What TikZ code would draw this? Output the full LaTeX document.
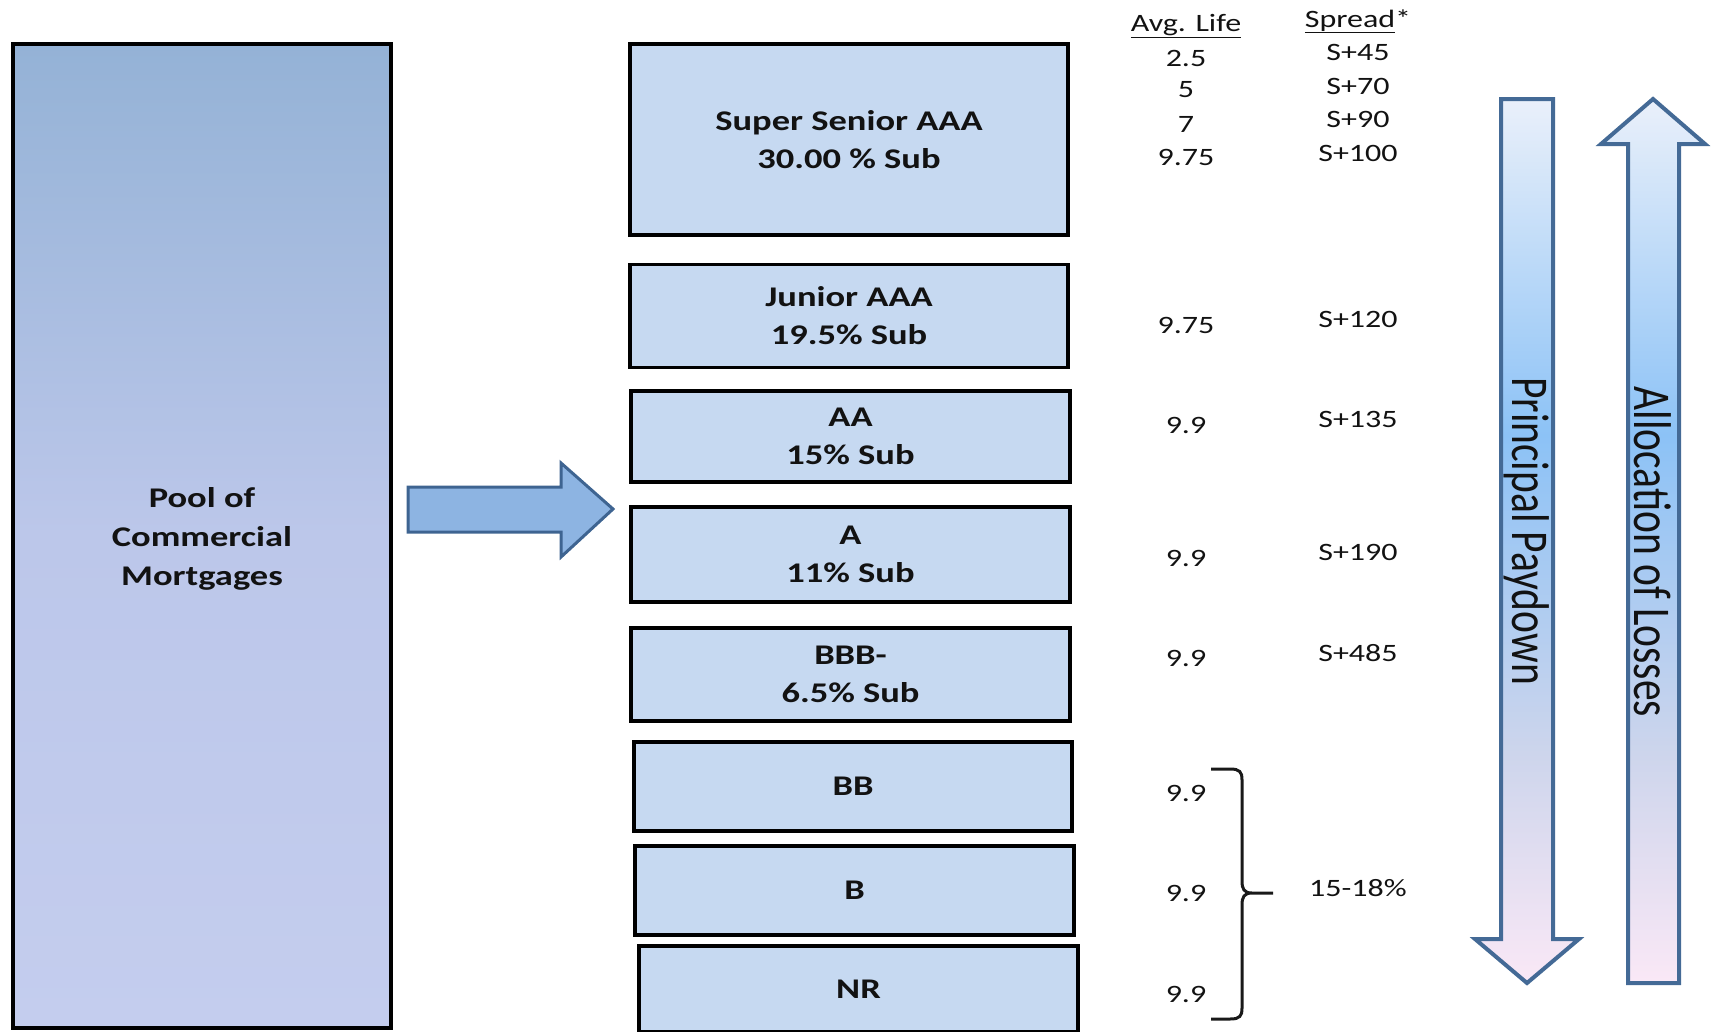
\documentclass[tikz,border=0pt]{standalone}
\usepackage{fontspec}
\setmainfont{Carlito}[FakeStretch=1.28]
\newfontfamily\rotfont{Carlito}
\definecolor{trfill}{RGB}{198,217,241}
\definecolor{arrfill}{RGB}{141,180,226}
\definecolor{arrdraw}{RGB}{62,100,145}
\definecolor{vdraw}{RGB}{68,106,150}
\definecolor{txt}{RGB}{18,18,18}
\definecolor{poolbot}{RGB}{196,205,238}
\definecolor{poolmid}{RGB}{188,199,234}
\definecolor{pooltop}{RGB}{148,178,214}
\definecolor{vpink}{RGB}{250,232,246}
\definecolor{vlav}{RGB}{205,213,236}
\definecolor{vblue}{RGB}{140,194,246}
\definecolor{vtop}{RGB}{234,240,250}
\pgfdeclareverticalshading{poolshade}{100bp}{color(0bp)=(poolbot); color(25bp)=(poolbot); color(50bp)=(poolmid); color(75bp)=(pooltop); color(100bp)=(pooltop)}
\pgfdeclareverticalshading{vshade}{100bp}{color(0bp)=(vpink); color(25bp)=(vpink); color(38bp)=(vlav); color(56bp)=(vblue); color(75bp)=(vtop); color(100bp)=(vtop)}
\begin{document}
\begin{tikzpicture}[x=1pt,y=-1pt,
  tranche/.style={draw=black, line width=3.4pt, fill=trfill, inner sep=0pt, align=center, text=txt,
    font=\bfseries\fontsize{28.5}{38}\selectfont},
  pool/.style={draw=black, line width=4pt, shade, shading=poolshade, inner sep=0pt, align=center, text=txt,
    font=\bfseries\fontsize{28.5}{39}\selectfont},
  col/.style={inner sep=0pt, text=txt, font=\fontsize{25}{28}\selectfont},
  bigarrow/.style={draw=arrdraw, line width=3pt, fill=arrfill, line join=miter},
  varrow/.style={draw=vdraw, line width=4pt, shade, shading=vshade, line join=miter},
  rottext/.style={inner sep=0pt, rotate=-90, text=txt, font=\rotfont\fontsize{41.5}{44}\selectfont}]
\useasboundingbox (0,0) rectangle (1712,1031);

% pool
\node[pool, minimum width=378pt, minimum height=984pt] (pool) at (202,536) {};
\node[inner sep=0pt, align=center, text=txt, font=\bfseries\fontsize{28.5}{39}\selectfont] (pooltxt) at (202,539) {Pool of\\Commercial\\Mortgages};

% big right arrow
\draw[bigarrow] (408,487) -- (561,487) -- (561,463) -- (613,509) -- (561,557) -- (561,532) -- (408,532) -- cycle;

% tranches
\node[tranche, minimum width=438pt, minimum height=191pt] (ss) at (849,139.5) {Super Senior AAA\\30.00 \% Sub};
\node[tranche, minimum width=438pt, minimum height=103pt] (jr) at (849,316) {Junior AAA\\19.5\% Sub};
\node[tranche, minimum width=439pt, minimum height=91pt] (aa) at (850.5,436.5) {AA\\15\% Sub};
\node[tranche, minimum width=439pt, minimum height=95pt] (a) at (850.5,554.5) {A\\11\% Sub};
\node[tranche, minimum width=439pt, minimum height=93pt] (bbb) at (850.5,674.5) {BBB-\\6.5\% Sub};
\node[tranche, minimum width=438pt, minimum height=89pt] (bb) at (853,786.5) {BB};
\node[tranche, minimum width=439pt, minimum height=89pt] (b) at (854.5,890.5) {B};
\node[tranche, minimum width=439pt, minimum height=86pt] (nr) at (858.5,989) {NR};

% headers
\node[col, anchor=base] (hal) at (1186,31) {\underline{Avg. Life}};
\node[col, anchor=base] (hsp) at (1358,27) {\underline{Spread}*};

% avg life
\node[col] (al1) at (1186,58) {2.5};
\node[col] (al2) at (1186,90) {5};
\node[col] (al3) at (1186,124) {7};
\node[col] (al4) at (1186,157) {9.75};
\node[col] (al5) at (1186,325) {9.75};
\node[col] (al6) at (1186,425) {9.9};
\node[col] (al7) at (1186,558) {9.9};
\node[col] (al8) at (1186,658) {9.9};
\node[col] (al9) at (1186,793) {9.9};
\node[col] (al10) at (1186,893) {9.9};
\node[col] (al11) at (1186,994) {9.9};

% spreads
\node[col] (sp1) at (1358,52) {S+45};
\node[col] (sp2) at (1358,86) {S+70};
\node[col] (sp3) at (1358,119) {S+90};
\node[col] (sp4) at (1358,153) {S+100};
\node[col] (sp5) at (1358,319) {S+120};
\node[col] (sp6) at (1358,419) {S+135};
\node[col] (sp7) at (1358,552) {S+190};
\node[col] (sp8) at (1358,653) {S+485};
\node[col] (sp9) at (1358,888) {15-18\%};

% brace
\draw[line width=3pt, black!90] (1211,769) -- (1230,769) .. controls (1240,769) and (1242,772) .. (1242,780)
  -- (1242,881) .. controls (1242,889) and (1244,893) .. (1252,893) -- (1273,893)
  (1252,893) .. controls (1244,893) and (1242,897) .. (1242,905)
  -- (1242,1008) .. controls (1242,1016) and (1240,1019) .. (1230,1019) -- (1211,1019);

% principal paydown arrow (down)
\path[varrow] (1501,99) -- (1553,99) -- (1553,939) -- (1579,939) -- (1527,983) -- (1475,939) -- (1501,939) -- cycle;
\node[rottext] (pp) at (1527,531) {\scalebox{1}[1.28]{Principal Paydown}};

% allocation of losses arrow (up)
\path[varrow] (1628,983) -- (1679,983) -- (1679,144) -- (1705,144) -- (1653,99) -- (1601,144) -- (1628,144) -- cycle;
\node[rottext] (al) at (1653,552) {\scalebox{1}[1.28]{Allocation of Losses}};
\end{tikzpicture}
\end{document}
